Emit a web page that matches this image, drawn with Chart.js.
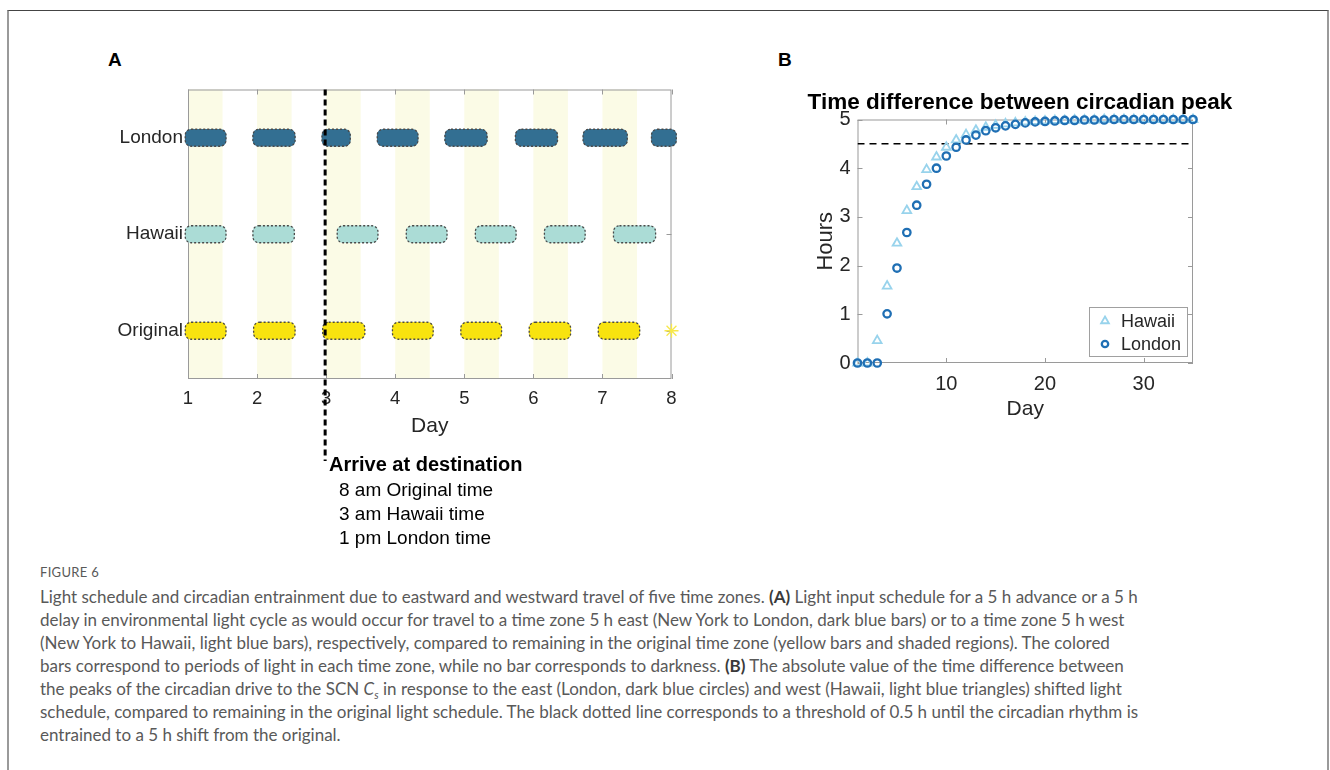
<!DOCTYPE html>
<html>
<head>
<meta charset="utf-8">
<script src="https://cdn.jsdelivr.net/npm/chart.js@4.4.0/dist/chart.umd.min.js"></script>
<style>
  html, body { margin: 0; padding: 0; background: #fff; }
  #page { position: relative; width: 1330px; height: 770px; overflow: hidden; font-family: 'Liberation Sans', Arial, sans-serif; }
  #frame { position: absolute; left: 7px; top: 10px; width: 1318px; height: 800px; border-top: 1px solid #444; border-left: 2px solid #9a9a9a; border-right: 2px solid #9a9a9a; }
  .letter { position: absolute; top: 49px; font-size: 19px; font-weight: bold; line-height: 22px; color: #000; }
  #wrapA { position: absolute; left: 0; top: 0; width: 760px; height: 560px; }
  #wrapB { position: absolute; left: 740px; top: 0; width: 590px; height: 440px; }
  #titleB { position: absolute; left: 770px; top: 89px; width: 500px; text-align: center; font-size: 22.5px; font-weight: bold; line-height: 26px; color: #000; white-space: nowrap; }
  #arrive { position: absolute; left: 329px; top: 451px; color: #000; font-size: 19px; line-height: 24px; white-space: nowrap; }
  #arrive .head { font-weight: bold; font-size: 20px; line-height: 27px; }
  #arrive .sub { padding-left: 10px; }
  #caption { position: absolute; left: 40px; top: 563px; font-family: Lato, 'Open Sans', sans-serif; color: #595959; white-space: nowrap; }
  #caption .fig { font-size: 13px; line-height: 18px; letter-spacing: 0.3px; margin-bottom: 4px; }
  #caption .ln { font-size: 17px; line-height: 23px; height: 23px; }
  #caption sub { font-size: 11px; line-height: 0; }
  #caption b { color: #3a3a3a; }
</style>
</head>
<body>
<div id="page">
  <div id="frame"></div>
  <div class="letter" style="left:108px">A</div>
  <div class="letter" style="left:778px">B</div>
  <div id="wrapA"><canvas id="chartA" width="760" height="560"></canvas></div>
  <div id="wrapB"><canvas id="chartB" width="590" height="440"></canvas></div>
  <div id="titleB">Time difference between circadian peak</div>
  <div id="arrive">
    <div class="head">Arrive at destination</div>
    <div class="sub">8 am Original time</div>
    <div class="sub">3 am Hawaii time</div>
    <div class="sub">1 pm London time</div>
  </div>
  <div id="caption">
    <div class="fig">FIGURE 6</div>
    <div class="ln">Light schedule and circadian entrainment due to eastward and westward travel of five time zones. <b>(A)</b> Light input schedule for a 5 h advance or a 5 h</div>
    <div class="ln">delay in environmental light cycle as would occur for travel to a time zone 5 h east (New York to London, dark blue bars) or to a time zone 5 h west</div>
    <div class="ln">(New York to Hawaii, light blue bars), respectively, compared to remaining in the original time zone (yellow bars and shaded regions). The colored</div>
    <div class="ln">bars correspond to periods of light in each time zone, while no bar corresponds to darkness. <b>(B)</b> The absolute value of the time difference between</div>
    <div class="ln">the peaks of the circadian drive to the SCN <i>C<sub>s</sub></i> in response to the east (London, dark blue circles) and west (Hawaii, light blue triangles) shifted light</div>
    <div class="ln">schedule, compared to remaining in the original light schedule. The black dotted line corresponds to a threshold of 0.5 h until the circadian rhythm is</div>
    <div class="ln">entrained to a 5 h shift from the original.</div>
  </div>
</div>
<script>
// ---- panel A data (days) ----
const rows = ['London', 'Hawaii', 'Original'];
const dayTicks = [1, 2, 3, 4, 5, 6, 7, 8];
const shadeDays = [[1, 1.5], [2, 2.5], [3, 3.5], [4, 4.5], [5, 5.5], [6, 6.5], [7, 7.5]];
const londonLight = [[0.96, 1.55], [1.94, 2.55], [2.94, 3.35], [3.74, 4.33], [4.72, 5.33], [5.74, 6.35], [6.72, 7.36], [7.71, 8.07]];
const hawaiiLight = [[0.96, 1.55], [1.94, 2.54], [3.16, 3.75], [4.16, 4.75], [5.16, 5.75], [6.16, 6.75], [7.16, 7.77]];
const originalLight = [[0.96, 1.55], [1.95, 2.55], [2.95, 3.56], [3.96, 4.55], [4.95, 5.54], [5.94, 6.54], [6.94, 7.54]];
const originalLastDay = [8];
const arrivalDay = 3;

// ---- panel B data ----
const days = [1, 2, 3, 4, 5, 6, 7, 8, 9, 10, 11, 12, 13, 14, 15, 16, 17, 18, 19, 20, 21, 22, 23, 24, 25, 26, 27, 28, 29, 30, 31, 32, 33, 34, 35];
const hawaiiDiff = [0, 0, 0.46, 1.58, 2.46, 3.13, 3.62, 3.97, 4.23, 4.43, 4.58, 4.69, 4.78, 4.84, 4.88, 4.91, 4.93, 4.95, 4.96, 4.97, 4.98, 4.98, 4.99, 4.99, 4.99, 5.0, 5.0, 5.0, 5.0, 5.0, 5.0, 5.0, 5.0, 5.0, 5.0];
const londonDiff = [0, 0, 0, 1.01, 1.95, 2.68, 3.24, 3.67, 4.0, 4.25, 4.43, 4.58, 4.68, 4.77, 4.83, 4.87, 4.9, 4.93, 4.95, 4.96, 4.97, 4.98, 4.98, 4.99, 4.99, 4.99, 5.0, 5.0, 5.0, 5.0, 5.0, 5.0, 5.0, 5.0, 5.0];
const bTicksX = [10, 20, 30];
const threshold = 4.5;

Chart.defaults.font.family = "'Liberation Sans', Arial, sans-serif";
Chart.defaults.color = '#262626';
Chart.defaults.animation = false;

const AXIS_GREY = '#9a9a9a';

// grey box round the plot with MATLAB style inward ticks
const frameTicks = {
    id: 'frameTicks',
    beforeDatasetsDraw(chart) {
        const { ctx, chartArea: a, scales } = chart;
        const L = 5;
        ctx.save();
        ctx.strokeStyle = AXIS_GREY;
        ctx.lineWidth = 1;
        ctx.strokeRect(a.left + 0.5, a.top + 0.5, a.width - 1, a.height - 1);
        ctx.beginPath();
        scales.x.ticks.forEach((t, i) => {
            const px = Math.round(scales.x.getPixelForTick(i)) + 0.5;
            ctx.moveTo(px, a.bottom); ctx.lineTo(px, a.bottom - L);
            ctx.moveTo(px, a.top); ctx.lineTo(px, a.top + L);
        });
        scales.y.ticks.forEach((t, i) => {
            const py = Math.round(scales.y.getPixelForTick(i)) + 0.5;
            ctx.moveTo(a.left, py); ctx.lineTo(a.left + L, py);
            ctx.moveTo(a.right, py); ctx.lineTo(a.right - L, py);
        });
        ctx.stroke();
        ctx.restore();
    }
};

// pale yellow shading of the original light periods
const shading = {
    id: 'shading',
    beforeDatasetsDraw(chart) {
        const { ctx, chartArea: a, scales: { x } } = chart;
        ctx.save();
        ctx.fillStyle = '#fbfbe6';
        shadeDays.forEach(([s, e]) => {
            const x0 = x.getPixelForValue(s), x1 = x.getPixelForValue(e);
            ctx.fillRect(x0, a.top, x1 - x0, a.height);
        });
        ctx.restore();
    }
};

// dotted outline round every light bar
const barOutline = {
    id: 'barOutline',
    afterDatasetsDraw(chart) {
        const { ctx } = chart;
        ctx.save();
        ctx.setLineDash([2, 2]);
        ctx.strokeStyle = '#4a4a4a';
        ctx.lineWidth = 1.3;
        chart.data.datasets.forEach((ds, di) => {
            if (ds.type !== 'bar') return;
            chart.getDatasetMeta(di).data.forEach(el => {
                const p = el.getProps(['x', 'y', 'base', 'height'], true);
                const left = Math.min(p.x, p.base), w = Math.abs(p.x - p.base);
                ctx.beginPath();
                ctx.roundRect(left, p.y - p.height / 2, w, p.height, 6);
                ctx.stroke();
            });
        });
        ctx.restore();
    }
};

// thick dashed arrival marker, runs down to the note below the axis
const arrivalLine = {
    id: 'arrivalLine',
    afterDraw(chart) {
        const { ctx, chartArea: a, scales: { x } } = chart;
        const px = x.getPixelForValue(arrivalDay) - 1;
        ctx.save();
        ctx.setLineDash([6, 4]);
        ctx.strokeStyle = '#000';
        ctx.lineWidth = 3;
        ctx.beginPath();
        ctx.moveTo(px, a.top);
        ctx.lineTo(px, a.bottom + 82);
        ctx.stroke();
        ctx.restore();
    }
};

function rowBars(row, spans, color) {
    return {
        type: 'bar',
        label: row,
        data: spans.map(s => ({ x: s, y: row })),
        backgroundColor: color,
        barThickness: 17,
        borderRadius: 6,
        borderSkipped: false,
        borderWidth: 0,
        clip: false
    };
}

new Chart(document.getElementById('chartA'), {
    type: 'bar',
    data: {
        labels: rows,
        datasets: [
            rowBars('London', londonLight, '#336f92'),
            rowBars('Hawaii', hawaiiLight, '#abdcd6'),
            rowBars('Original', originalLight, '#f8e30f'),
            {
                type: 'scatter',
                label: 'end',
                data: originalLastDay.map(d => ({ x: d, y: 'Original' })),
                pointStyle: 'star',
                radius: 7,
                borderColor: '#f7e84a',
                borderWidth: 1.3,
                clip: false
            }
        ]
    },
    options: {
        responsive: false,
        indexAxis: 'y',
        grouped: false,
        layout: { padding: { left: 0, top: 89.5, right: 88.5, bottom: 117 } },
        plugins: { legend: { display: false }, tooltip: { enabled: false } },
        scales: {
            x: {
                type: 'linear',
                min: 1,
                max: 8,
                afterBuildTicks: axis => { axis.ticks = dayTicks.map(v => ({ value: v })); },
                afterFit: axis => { axis.height = 64; },
                grid: { display: false, drawTicks: false },
                border: { display: false },
                ticks: { font: { size: 18.5 }, padding: 9, color: '#262626' },
                title: { display: true, text: 'Day', font: { size: 21 }, color: '#262626', padding: { top: 4, bottom: 4 } }
            },
            y: {
                type: 'category',
                afterFit: axis => { axis.width = 188; },
                grid: { display: false, drawTicks: false },
                border: { display: false },
                ticks: { font: { size: 19 }, padding: 5, color: '#262626' }
            }
        }
    },
    plugins: [shading, frameTicks, barOutline, arrivalLine]
});

// legend drawn inside the lower right corner of the plot
const insideLegend = {
    id: 'insideLegend',
    afterDraw(chart) {
        const { ctx, chartArea: a } = chart;
        const items = chart.data.datasets.filter(ds => ds.pointStyle);
        const w = 98, h = 49;
        const bx = a.right - 6 - w, by = a.bottom - 7 - h;
        ctx.save();
        ctx.fillStyle = '#fff';
        ctx.fillRect(bx, by, w, h);
        ctx.strokeStyle = '#a0a0a0';
        ctx.lineWidth = 1;
        ctx.strokeRect(bx + 0.5, by + 0.5, w, h);
        items.forEach((ds, i) => {
            const cy = by + 14 + i * 23;
            ctx.strokeStyle = ds.borderColor;
            ctx.fillStyle = 'rgba(0,0,0,0)';
            ctx.lineWidth = ds.borderWidth;
            Chart.helpers.drawPoint(ctx, { pointStyle: ds.pointStyle, radius: ds.pointRadius - 0.5, borderWidth: ds.borderWidth, rotation: 0 }, bx + 16, cy);
            ctx.fillStyle = '#262626';
            ctx.font = "18px 'Liberation Sans', Arial, sans-serif";
            ctx.textBaseline = 'middle';
            ctx.fillText(ds.label, bx + 32, cy + 1);
        });
        ctx.restore();
    }
};

new Chart(document.getElementById('chartB'), {
    type: 'scatter',
    data: {
        datasets: [
            {
                label: 'Hawaii',
                data: days.map((d, i) => ({ x: d, y: hawaiiDiff[i] })),
                pointStyle: 'triangle',
                pointRadius: 5,
                borderColor: '#98d3ec',
                backgroundColor: 'rgba(0,0,0,0)',
                borderWidth: 1.8,
                order: 1,
                clip: false
            },
            {
                label: 'London',
                data: days.map((d, i) => ({ x: d, y: londonDiff[i] })),
                pointStyle: 'circle',
                pointRadius: 3.7,
                borderColor: '#1f6fb4',
                backgroundColor: 'rgba(0,0,0,0)',
                borderWidth: 2.3,
                order: 0,
                clip: false
            },
            {
                type: 'line',
                data: [{ x: days[0], y: threshold }, { x: days[days.length - 1], y: threshold }],
                borderColor: '#000',
                borderWidth: 1.5,
                borderDash: [7, 5],
                pointRadius: 0,
                order: 2
            }
        ]
    },
    options: {
        responsive: false,
        layout: { padding: { left: 68.5, top: 119.5, right: 137, bottom: 17 } },
        plugins: { legend: { display: false }, tooltip: { enabled: false } },
        scales: {
            x: {
                type: 'linear',
                min: 1,
                max: 35,
                afterBuildTicks: axis => { axis.ticks = bTicksX.map(v => ({ value: v })); },
                afterFit: axis => { axis.height = 60; },
                grid: { display: false, drawTicks: false },
                border: { display: false },
                ticks: { font: { size: 20 }, padding: 9, color: '#262626' },
                title: { display: true, text: 'Day', font: { size: 21 }, color: '#262626', padding: { top: 4, bottom: 1 } }
            },
            y: {
                min: 0,
                max: 5,
                afterFit: axis => { axis.width = 49; },
                grid: { display: false, drawTicks: false },
                border: { display: false },
                ticks: { stepSize: 1, font: { size: 20 }, padding: 7, color: '#262626' },
                title: { display: true, text: 'Hours', font: { size: 22 }, color: '#262626', padding: { top: 4, bottom: 4 } }
            }
        }
    },
    plugins: [frameTicks, insideLegend]
});
</script>
</body>
</html>
